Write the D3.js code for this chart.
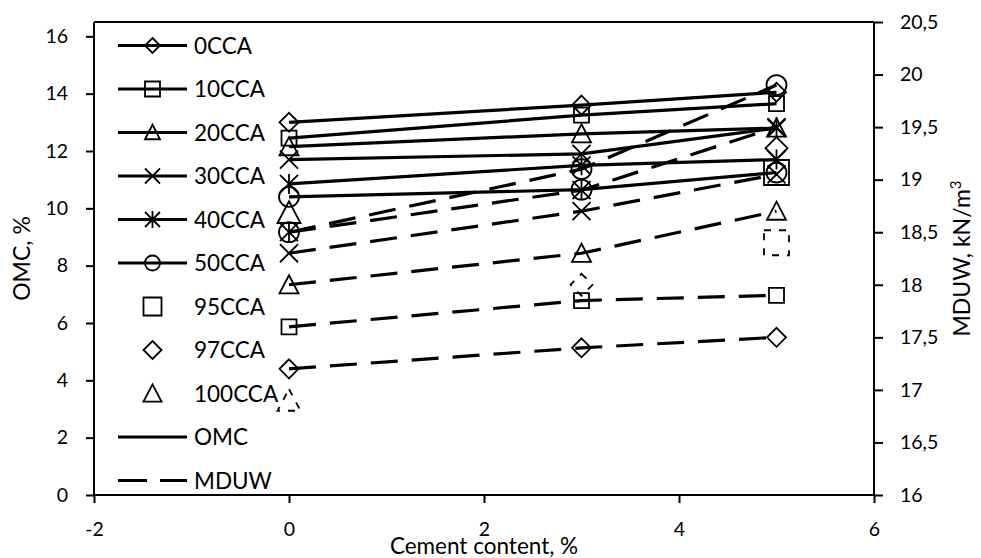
<!DOCTYPE html>
<html><head><meta charset="utf-8">
<script src="https://cdn.jsdelivr.net/npm/d3@7"></script>
<style>
html,body{margin:0;padding:0;background:#fff;}
svg{display:block;font-family:Lato,"Open Sans",sans-serif;}
</style></head>
<body>
<svg id="chart" width="981" height="558"></svg>
<script>
// ---- data ----
const cement = [0, 3, 5];
const seriesNames = ["0CCA","10CCA","20CCA","30CCA","40CCA","50CCA"];
const seriesMarkers = ["diamond","square","triangle","x","star","circle"];
const omc0  = [13.0, 13.6, 14.05];
const omc10 = [12.45, 13.25, 13.65];
const omc20 = [12.15, 12.6, 12.8];
const omc30 = [11.7, 11.9, 12.8];
const omc40 = [10.85, 11.5, 11.7];
const omc50 = [10.4, 10.65, 11.25];
const mduw0  = [17.2, 17.4, 17.5];
const mduw10 = [17.6, 17.85, 17.9];
const mduw20 = [18.0, 18.3, 18.7];
const mduw30 = [18.3, 18.7, 19.05];
const mduw40 = [18.5, 18.9, 19.5];
const mduw50 = [18.5, 19.1, 19.9];
const singleNames      = ["95CCA","97CCA","100CCA"];
const singleMarkers    = ["square","diamond","triangle"];
const singleCementOMC  = [5, 5, 0];
const singleOMC        = [11.25, 12.1, 9.85];
const singleCementMDUW = [5, 3, 0];
const singleMDUW       = [18.4, 18.0, 16.9];
const xTicks  = [-2, 0, 2, 4, 6];
const yLTicks = [0, 2, 4, 6, 8, 10, 12, 14, 16];
const yRTicks = [16, 16.5, 17, 17.5, 18, 18.5, 19, 19.5, 20, 20.5];

const omcSeries  = [omc0, omc10, omc20, omc30, omc40, omc50];
const mduwSeries = [mduw0, mduw10, mduw20, mduw30, mduw40, mduw50];

// ---- layout ----
const svg = d3.select("#chart");
const L = 94, R = 874, T = 22, B = 495;
const x  = d3.scaleLinear().domain([-2, 6]).range([L, R]);
const yL = d3.scaleLinear().domain([0, 16.5]).range([B, T]);
const yR = d3.scaleLinear().domain([16, 20.5]).range([B, T]);

function markerPath(type, s) {
  const h = s / 2;
  switch (type) {
    case "diamond": return `M0,${-h}L${h},0L0,${h}L${-h},0Z`;
    case "square": return `M${-h},${-h}H${h}V${h}H${-h}Z`;
    case "triangle": { const th = s * 0.9; return `M0,${-th/2 - 1}L${h},${th/2}H${-h}Z`; }
    case "x": return `M${-h},${-h}L${h},${h}M${h},${-h}L${-h},${h}`;
    case "star": return `M${-h},${-h}L${h},${h}M${h},${-h}L${-h},${h}M0,${-h - 1}V${h + 1}`;
    case "circle": return `M${h},0A${h},${h} 0 1,1 ${-h},0A${h},${h} 0 1,1 ${h},0Z`;
  }
}
const mSize = {diamond: 19, square: 15, triangle: 19, x: 18, star: 18, circle: 20};
const bigSize = {square: 25, diamond: 22, triangle: 23};

const dash = "27,14";

// ---- axes ----
const axisG = svg.append("g").attr("stroke", "#000").attr("stroke-width", 2).attr("fill", "none");
axisG.append("line").attr("x1", L).attr("x2", R).attr("y1", T).attr("y2", T);

const fmtR = d => String(d).replace(".", ",");
const fmtX = d => String(d);
const gx = svg.append("g").attr("transform", `translate(0,${B})`)
  .call(d3.axisBottom(x).tickValues(xTicks).tickFormat(fmtX).tickSize(8).tickPadding(19).tickSizeOuter(0));
const gl = svg.append("g").attr("transform", `translate(${L},0)`)
  .call(d3.axisLeft(yL).tickValues(yLTicks).tickFormat(fmtX).tickSize(8).tickPadding(18).tickSizeOuter(0));
const gr = svg.append("g").attr("transform", `translate(${R},0)`)
  .call(d3.axisRight(yR).tickValues(yRTicks).tickFormat(fmtR).tickSize(9).tickPadding(17).tickSizeOuter(0));
[gx, gl, gr].forEach(g => {
  g.select(".domain").attr("stroke", "#000").attr("stroke-width", 2);
  g.selectAll(".tick line").attr("stroke", "#000").attr("stroke-width", 2);
  g.selectAll(".tick text").attr("fill", "#000").style("font-size", "19.5px").style("font-family", "Lato");
});
gl.select(".domain").attr("d", `M0,${T}V${B}`);
gr.select(".domain").attr("d", `M0,${T}V${B}`);
gx.select(".domain").attr("d", `M${L},0H${R}`);

// axis titles
svg.append("text").attr("x", (L + R) / 2).attr("y", 554).attr("text-anchor", "middle")
  .style("font-size", "22.5px").text("Cement content, %");
svg.append("text").attr("transform", `translate(30,${(T + B) / 2}) rotate(-90)`).attr("text-anchor", "middle")
  .style("font-size", "23px").text("OMC, %");
const rt = svg.append("text").attr("transform", `translate(970,${(T + B) / 2}) rotate(-90)`).attr("text-anchor", "middle")
  .style("font-size", "23px");
rt.append("tspan").text("MDUW, kN/m");
rt.append("tspan").attr("dy", "-9").style("font-size", "15px").text("3");

// ---- series ----
const plot = svg.append("g");
const lineL = d3.line().x((d, i) => x(cement[i])).y(d => yL(d));
const lineR = d3.line().x((d, i) => x(cement[i])).y(d => yR(d));

omcSeries.forEach((vals, k) => {
  plot.append("path").attr("d", lineL(vals)).attr("fill", "none").attr("stroke", "#000").attr("stroke-width", 3.2);
  vals.forEach((v, i) => {
    plot.append("path").attr("transform", `translate(${x(cement[i])},${yL(v)})`)
      .attr("d", markerPath(seriesMarkers[k], mSize[seriesMarkers[k]]))
      .attr("fill", "none").attr("stroke", "#000").attr("stroke-width", 1.8);
  });
});
mduwSeries.forEach((vals, k) => {
  plot.append("path").attr("d", lineR(vals)).attr("fill", "none").attr("stroke", "#000").attr("stroke-width", 3.2)
    .attr("stroke-dasharray", dash);
  vals.forEach((v, i) => {
    plot.append("path").attr("transform", `translate(${x(cement[i])},${yR(v)})`)
      .attr("d", markerPath(seriesMarkers[k], mSize[seriesMarkers[k]]))
      .attr("fill", "none").attr("stroke", "#000").attr("stroke-width", 1.8);
  });
});
singleNames.forEach((n, k) => {
  const t = singleMarkers[k];
  plot.append("path").attr("transform", `translate(${x(singleCementOMC[k])},${yL(singleOMC[k])})`)
    .attr("d", markerPath(t, bigSize[t])).attr("fill", "none").attr("stroke", "#000").attr("stroke-width", 1.8);
  plot.append("path").attr("transform", `translate(${x(singleCementMDUW[k])},${yR(singleMDUW[k])})`)
    .attr("d", markerPath(t, bigSize[t])).attr("fill", "none").attr("stroke", "#000").attr("stroke-width", 1.8)
    .attr("stroke-dasharray", "7,8");
});

// ---- legend ----
const legendItems = [];
seriesNames.forEach((n, k) => legendItems.push({name: n, line: "solid", marker: seriesMarkers[k], size: 15}));
singleNames.forEach((n, k) => legendItems.push({name: n, line: null, marker: singleMarkers[k], size: 18}));
legendItems.push({name: "OMC", line: "solid", marker: null});
legendItems.push({name: "MDUW", line: "dash", marker: null});
const lg = svg.append("g");
legendItems.forEach((it, i) => {
  const yy = 45.5 + i * 43.5;
  if (it.line) {
    lg.append("line").attr("x1", 118).attr("x2", 187).attr("y1", yy).attr("y2", yy)
      .attr("stroke", "#000").attr("stroke-width", 3.2)
      .attr("stroke-dasharray", it.line === "dash" ? "29,13" : null);
  }
  if (it.marker) {
    lg.append("path").attr("transform", `translate(152.5,${yy})`).attr("d", markerPath(it.marker, it.size))
      .attr("fill", "none").attr("stroke", "#000").attr("stroke-width", 1.8);
  }
  lg.append("text").attr("x", 194).attr("y", yy).attr("dy", "0.36em").style("font-size", "22.5px").text(it.name);
});
</script>
</body></html>
